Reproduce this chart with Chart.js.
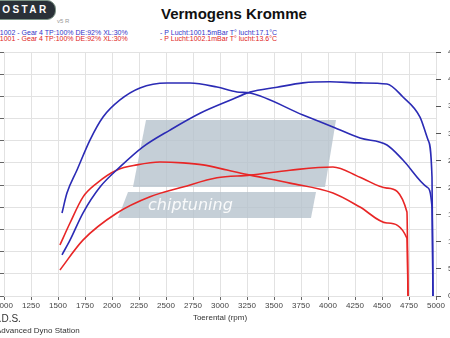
<!DOCTYPE html>
<html>
<head>
<meta charset="utf-8">
<script src="https://cdn.jsdelivr.net/npm/chart.js@4/dist/chart.umd.min.js"></script>
<style>
body { margin: 0; width: 450px; height: 338px; overflow: hidden; background: #fff; position: relative; font-family: Arial, "Liberation Sans", sans-serif; }
#chart { position: absolute; left: -40px; top: 0; }
.logo { position: absolute; left: -30px; top: 0px; width: 84px; height: 18px; background: #2a3138; border: 1px solid #7d9486; border-radius: 9px; }
.logo span { position: absolute; left: 3px; top: 3px; color: #fff; font: bold 10px Arial, sans-serif; letter-spacing: 2.4px; }
.ver { position: absolute; left: 57px; top: 18px; color: #999; font-size: 6px; }
.title { position: absolute; left: 161px; top: 5px; font: bold 15px Arial, sans-serif; color: #111; }
.leg { position: absolute; font-size: 7px; white-space: nowrap; }
.blue { color: #3434c8; }
.red { color: #e02424; }
.foot1 { position: absolute; left: -8px; top: 313px; font-size: 10px; color: #333; }
.foot2 { position: absolute; left: -4px; top: 326px; font-size: 8px; color: #333; }
</style>
</head>
<body>
<div class="logo"><span>DYNOSTAR</span></div>
<div class="ver">v5 R</div>
<div class="title">Vermogens Kromme</div>
<div class="leg blue" style="left:-15px; top:29px;">Run 1002 - Gear 4 TP:100% DE:92% XL:30%</div>
<div class="leg blue" style="left:160px; top:29px;">- P Lucht:1001.5mBar T° lucht:17.1°C</div>
<div class="leg red" style="left:-15px; top:35px;">Run 1001 - Gear 4 TP:100% DE:92% XL:30%</div>
<div class="leg red" style="left:160px; top:35px;">- P Lucht:1002.1mBar T° lucht:13.6°C</div>
<canvas id="chart" width="516" height="338"></canvas>
<div class="foot1">A.D.S.</div>
<div class="foot2">Advanced Dyno Station</div>
<script>
// Run 1002 (blue)
const torque1002Rpm = [1537, 1583, 1676, 1796, 1917, 2074, 2259, 2509, 2722, 2972, 3157, 3278, 3768, 4046, 4296, 4546, 4694, 4917, 4963, 4972];
const torque1002 = [374, 464, 568, 703, 807, 884, 938, 960, 960, 942, 920, 915, 816, 762, 712, 681, 613, 491, 401, 0];
const power1002Rpm = [1537, 1611, 1731, 1889, 2074, 2287, 2537, 2815, 3093, 3278, 3528, 3768, 4018, 4296, 4546, 4694, 4852, 4926, 4963, 4972];
const power1002 = [76, 103, 153, 201, 238, 275, 306, 337, 361, 376, 385, 393, 395, 393, 391, 367, 330, 288, 219, 0];

// Run 1001 (red)
const torque1001Rpm = [1518, 1611, 1731, 1861, 2046, 2231, 2444, 2657, 2843, 3065, 3278, 3648, 4046, 4296, 4546, 4731, 4741];
const torque1001 = [230, 329, 446, 509, 568, 591, 604, 600, 591, 568, 545, 509, 464, 401, 329, 261, 0];
const power1001Rpm = [1518, 1731, 2046, 2352, 2657, 2972, 3278, 3648, 4046, 4296, 4546, 4731, 4741];
const power1001 = [48, 103, 153, 183, 201, 218, 223, 232, 238, 219, 199, 155, 0];

const blue = '#2b2bb5';
const red = '#e82626';

function toPoints(xs, ys) {
    return xs.map((x, i) => ({ x: x, y: ys[i] }));
}

// grey "chiptuning" watermark behind the curves
const watermark = {
    id: 'watermark',
    beforeDatasetsDraw(chart) {
        const ctx = chart.ctx;
        const dx = 40;
        ctx.save();
        ctx.fillStyle = 'rgba(182, 195, 205, 0.8)';
        ctx.beginPath();
        ctx.moveTo(dx + 146, 120);
        ctx.lineTo(dx + 336, 120);
        ctx.lineTo(dx + 325, 187);
        ctx.lineTo(dx + 133, 187);
        ctx.closePath();
        ctx.fill();
        ctx.beginPath();
        ctx.moveTo(dx + 128, 192);
        ctx.lineTo(dx + 316, 192);
        ctx.lineTo(dx + 311, 218);
        ctx.lineTo(dx + 118, 218);
        ctx.closePath();
        ctx.fill();
        ctx.fillStyle = 'rgba(255, 255, 255, 0.9)';
        ctx.font = 'italic 16px "DejaVu Sans", sans-serif';
        ctx.textBaseline = 'middle';
        ctx.fillText('chiptuning', dx + 148, 206);
        ctx.restore();
    }
};

var ctx = document.getElementById('chart').getContext('2d');
var dynoChart = new Chart(ctx, {
    type: 'scatter',
    data: {
        datasets: [{
            label: 'Koppel 1002',
            data: toPoints(torque1002Rpm, torque1002),
            yAxisID: 'yTorque',
            borderColor: blue
        }, {
            label: 'Vermogen 1002',
            data: toPoints(power1002Rpm, power1002),
            yAxisID: 'yPower',
            borderColor: blue
        }, {
            label: 'Koppel 1001',
            data: toPoints(torque1001Rpm, torque1001),
            yAxisID: 'yTorque',
            borderColor: red
        }, {
            label: 'Vermogen 1001',
            data: toPoints(power1001Rpm, power1001),
            yAxisID: 'yPower',
            borderColor: red
        }]
    },
    options: {
        responsive: false,
        animation: false,
        showLine: true,
        elements: {
            point: { radius: 0 },
            line: { borderWidth: 1.6, cubicInterpolationMode: 'monotone' }
        },
        layout: { padding: { top: 52, bottom: 15, left: 0, right: 0 } },
        plugins: {
            legend: { display: false },
            tooltip: { enabled: false }
        },
        scales: {
            x: {
                type: 'linear',
                min: 1000,
                max: 5000,
                ticks: { stepSize: 250, color: '#444', font: { size: 8 }, padding: 1, maxRotation: 0, autoSkip: false, callback: (v) => String(v) },
                grid: { color: '#e2e2e2', tickLength: 4, tickColor: '#666' },
                border: { display: false },
                title: { display: true, text: 'Toerental (rpm)', color: '#333', font: { size: 8 }, padding: 0 },
                afterFit: (scale) => { scale.height = 27; }
            },
            yTorque: {
                position: 'left',
                min: 0,
                max: 1100,
                ticks: { stepSize: 100, color: '#444', font: { size: 8 }, callback: (v) => String(v) },
                grid: { color: '#e2e2e2', tickLength: 4, tickColor: '#666' },
                border: { display: false },
                afterFit: (scale) => { scale.width = 44; }
            },
            yPower: {
                position: 'right',
                min: 0,
                max: 450,
                ticks: { stepSize: 50, color: '#444', font: { size: 8 }, padding: 7 },
                grid: { drawOnChartArea: false, tickLength: 5, tickColor: '#555' },
                border: { display: false },
                afterFit: (scale) => { scale.width = 40; }
            }
        }
    },
    plugins: [watermark]
});
</script>
</body>
</html>
